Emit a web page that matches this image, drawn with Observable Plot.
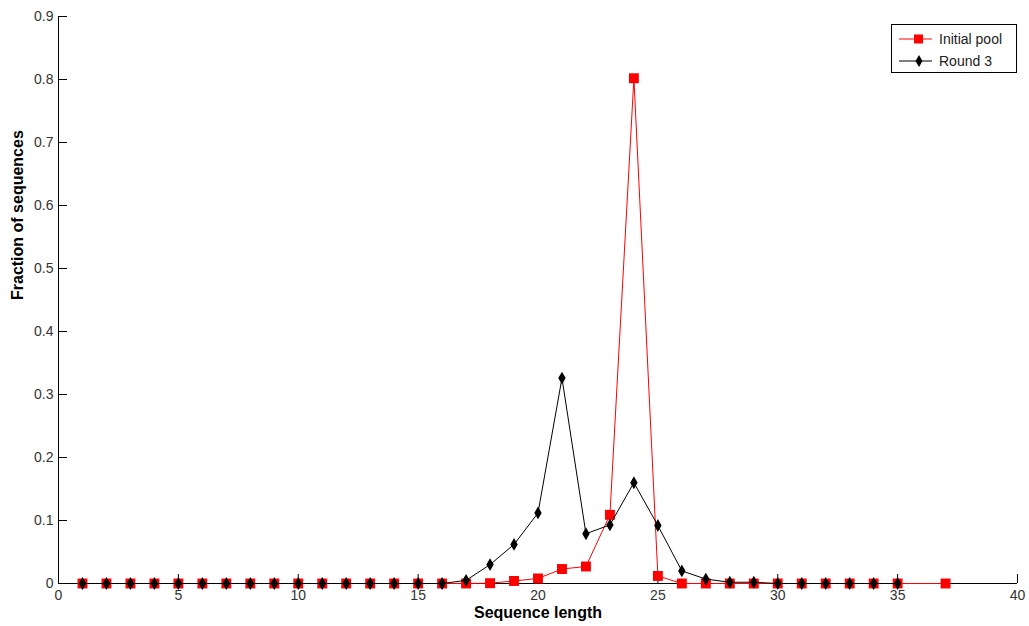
<!DOCTYPE html>
<html><head><meta charset="utf-8">
<script src="https://cdn.jsdelivr.net/npm/d3@7"></script>
<script src="https://cdn.jsdelivr.net/npm/@observablehq/plot@0.6"></script>
<style>
body{margin:0;background:#fff;font-family:Arial,"Liberation Sans",sans-serif}
#wrap{position:relative;width:1029px;height:626px}
#legend{position:absolute;left:891px;top:24px;width:124px;height:47px;border:1px solid #000;background:#fff;font-size:14px;color:#222}
#legend svg{position:absolute;left:0;top:0}
</style></head><body><div id="wrap"></div>
<script>
const initialLengths = [1,2,3,4,5,6,7,8,9,10,11,12,13,14,15,16,17,18,19,20,21,22,23,24,25,26,27,28,29,30,31,32,33,34,35,37];
const initialPool    = [0,0,0,0,0,0,0,0,0,0,0,0,0,0,0,0,0,0.0005,0.004,0.008,0.023,0.027,0.109,0.802,0.012,0,0,0,0,0,0,0,0,0,0,0];
const round3Lengths  = [1,2,3,4,5,6,7,8,9,10,11,12,13,14,15,16,17,18,19,20,21,22,23,24,25,26,27,28,29,30,31,32,33,34,35];
const round3         = [0,0,0,0,0,0,0,0,0,0,0,0,0,0,0,0,0.005,0.030,0.062,0.112,0.326,0.079,0.093,0.160,0.092,0.020,0.007,0.002,0.002,0,0,0,0,0,0];
const xTicks = [0,5,10,15,20,25,30,35,40];
const yTicks = [0,0.1,0.2,0.3,0.4,0.5,0.6,0.7,0.8,0.9];
const yTickLabels = ["0","0.1","0.2","0.3","0.4","0.5","0.6","0.7","0.8","0.9"];
const seriesNames = ["Initial pool","Round 3"];
const xLabel = "Sequence length";
const yLabel = "Fraction of sequences";

const initData = initialLengths.map((x,i)=>({x, y: initialPool[i]}));
const r3Data = round3Lengths.map((x,i)=>({x, y: round3[i]}));

const chart = Plot.plot({
  width: 1029, height: 626,
  marginLeft: 58, marginRight: 12, marginTop: 16, marginBottom: 43,
  x: {domain: [0, 40]},
  y: {domain: [0, 0.9]},
  style: {fontFamily: "Arial, 'Liberation Sans', sans-serif", fontSize: "14px", background: "#fff", color: "#333"},
  marks: [
    Plot.axisX(xTicks, {tickSize: 0, tickPadding: 7, label: null}),
    Plot.axisY(yTicks, {tickSize: 0, tickPadding: 5, label: null, tickFormat: d => yTickLabels[yTicks.indexOf(d)]}),
    Plot.tickX(xTicks, {x: d => d, insetTop: 558, stroke: "#000"}),
    Plot.tickY(yTicks, {y: d => d, insetRight: 950, stroke: "#000"}),
    Plot.ruleX([0], {stroke: "#000"}),
    Plot.ruleY([0], {stroke: "#000"}),
    Plot.line(initData, {x: "x", y: "y", stroke: "#ff0000", strokeWidth: 1}),
    Plot.dot(initData, {x: "x", y: "y", symbol: "square", r: 5.6, fill: "#ff0000", stroke: "none"}),
    Plot.line(r3Data, {x: "x", y: "y", stroke: "#000", strokeWidth: 1}),
    Plot.dot(r3Data, {x: "x", y: "y", symbol: "diamond", r: 3.9, fill: "#000", stroke: "none"}),
    Plot.text([xLabel], {frameAnchor: "bottom", dy: 34, fontWeight: "bold", fontSize: 16, fill: "#000"}),
    Plot.text([yLabel], {frameAnchor: "left", dx: -41, rotate: -90, fontWeight: "bold", fontSize: 16, fill: "#000"})
  ]
});
const wrap = document.getElementById("wrap");
wrap.appendChild(chart);

const leg = document.createElement("div");
leg.id = "legend";
leg.innerHTML = `<svg width="124" height="47">
  <line x1="7" x2="40" y1="14" y2="14" stroke="#ff0000"/>
  <rect x="22" y="9.5" width="9" height="9" fill="#ff0000"/>
  <line x1="7" x2="40" y1="36" y2="36" stroke="#000"/>
  <path d="M27,30 L30.5,36 L27,42 L23.5,36 Z" fill="#000"/>
  <text x="47" y="19" font-size="14" fill="#222">${seriesNames[0]}</text>
  <text x="47" y="41" font-size="14" fill="#222">${seriesNames[1]}</text>
</svg>`;
wrap.appendChild(leg);
</script>
</body></html>
